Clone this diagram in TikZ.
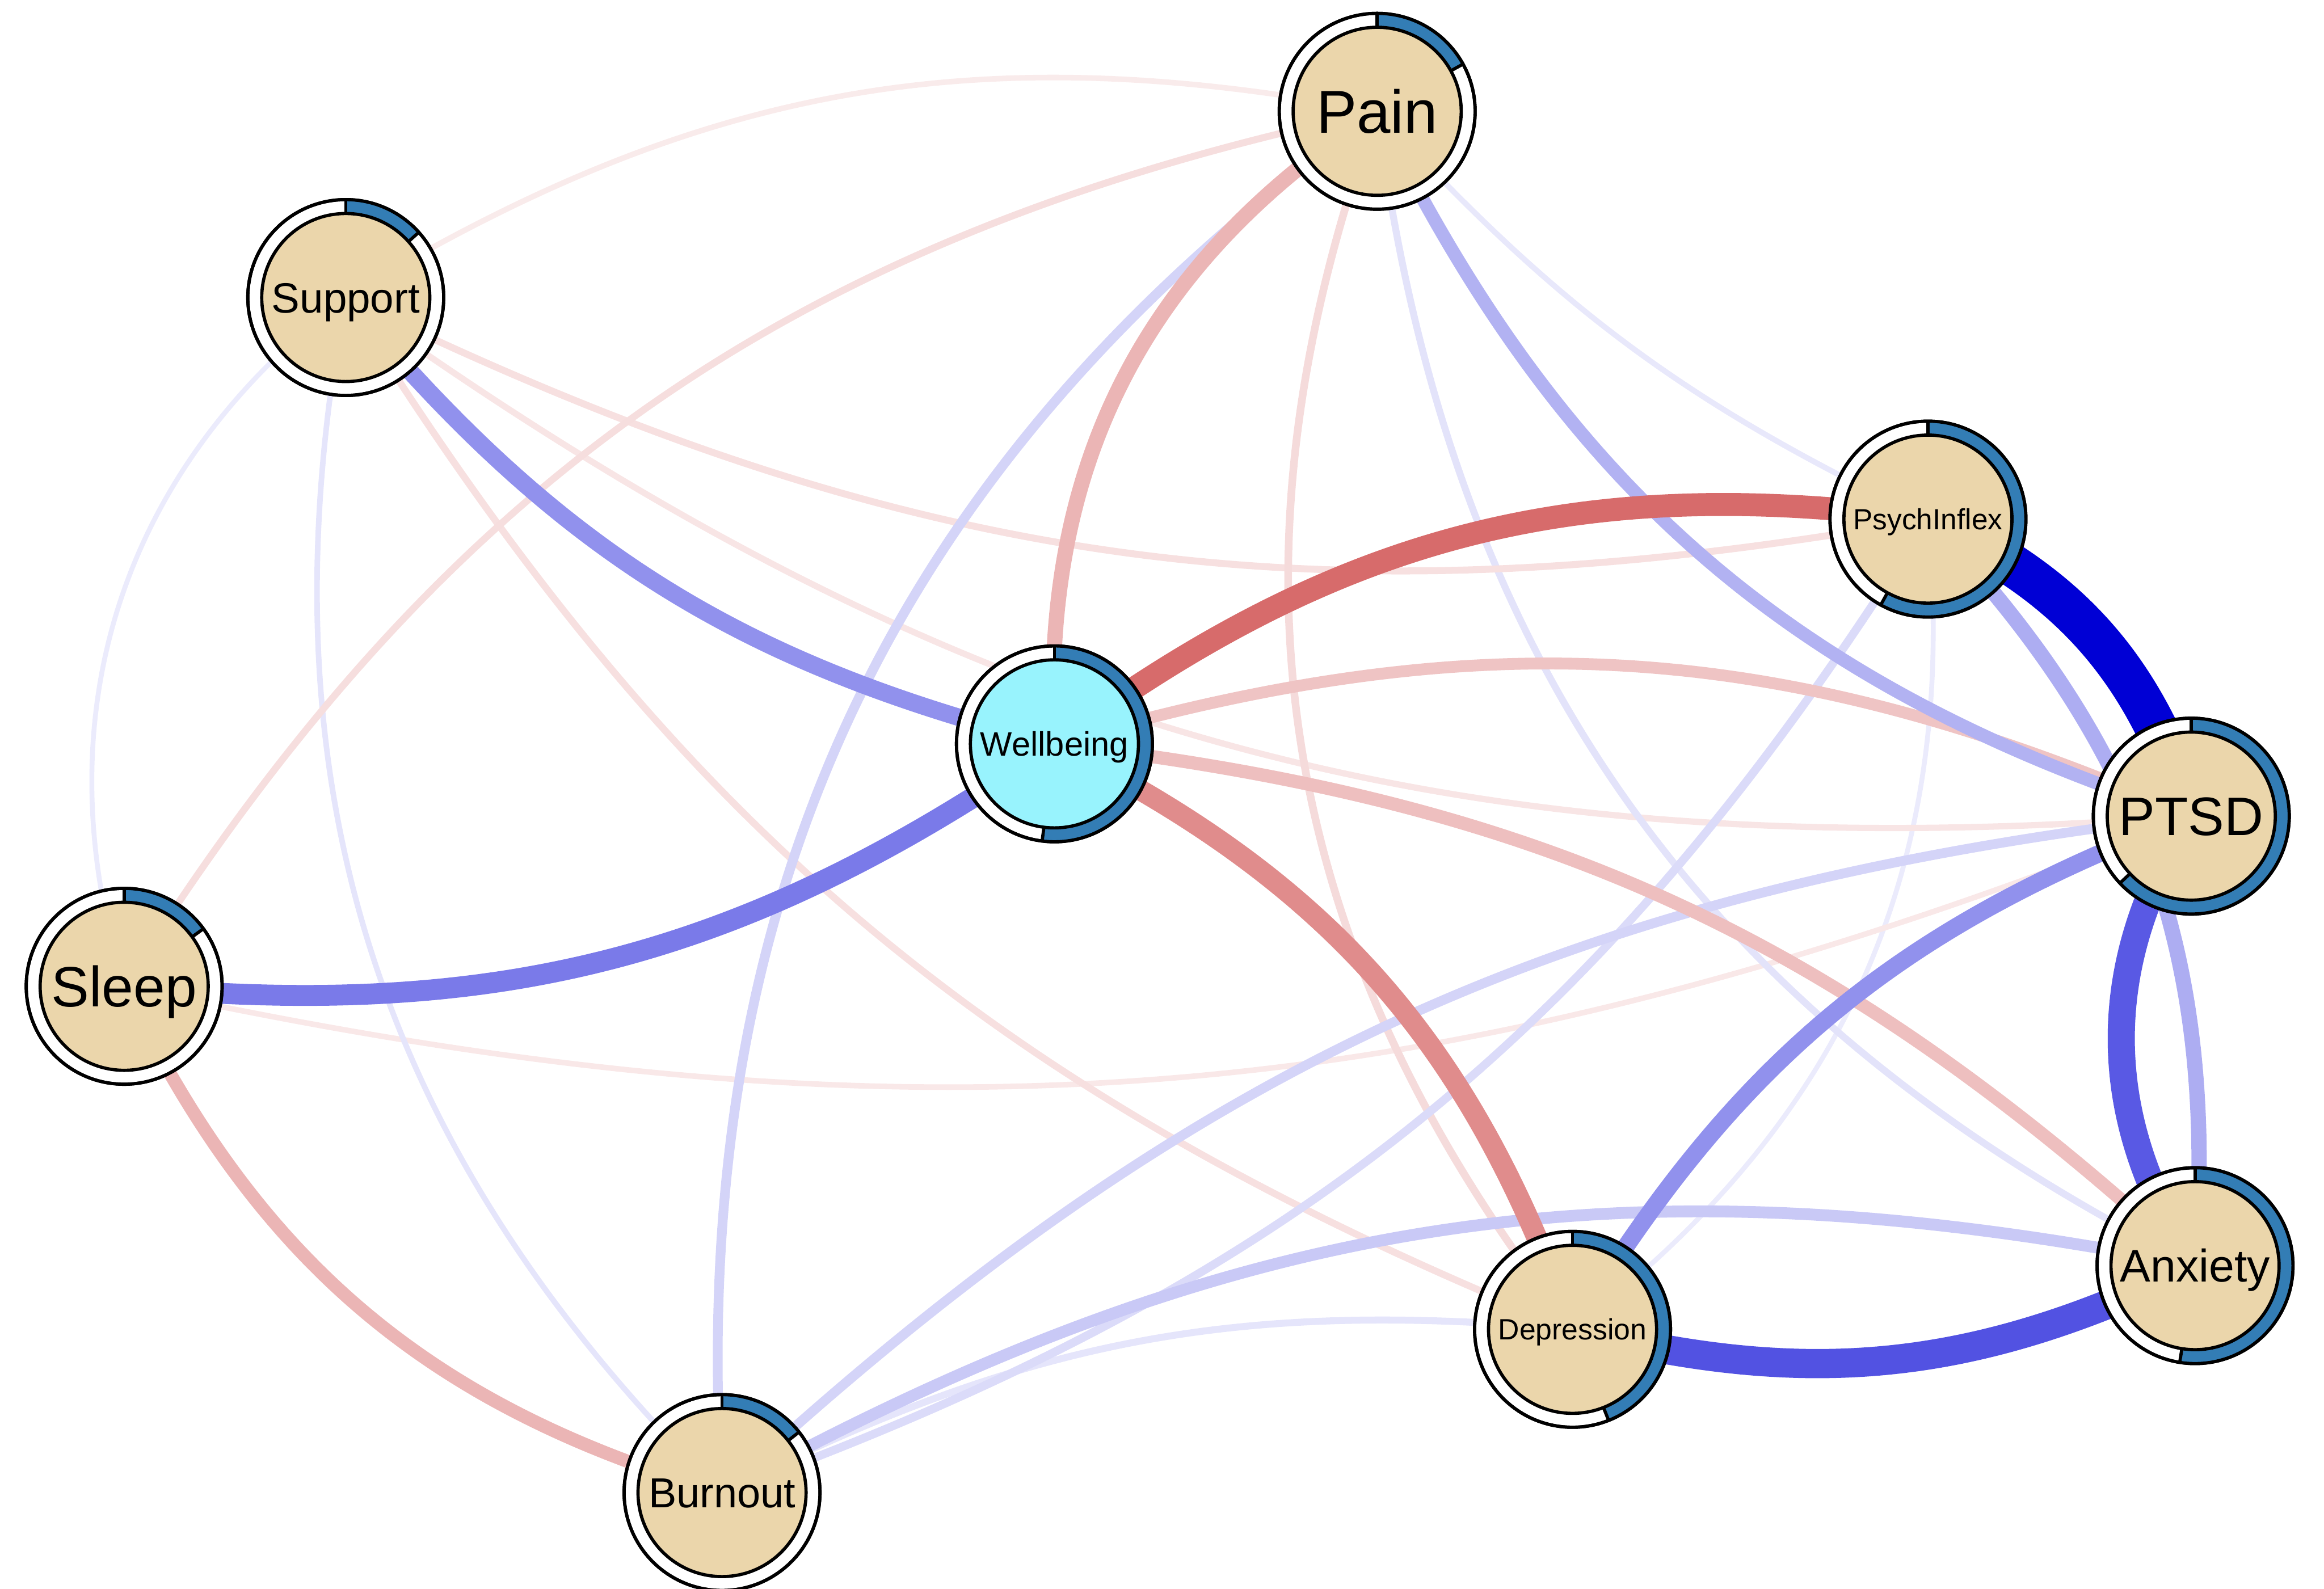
\documentclass[tikz,border=0pt]{standalone}
\usepackage{fontspec}
\setmainfont{Liberation Sans}
\definecolor{pieblue}{HTML}{337DB5}
\definecolor{nodebeige}{HTML}{EBD6AB}
\definecolor{nodecyan}{HTML}{98F3FD}
\definecolor{posblue}{HTML}{0000D5}
\definecolor{negred}{HTML}{BA0000}
\pgfdeclarelayer{edges}
\pgfsetlayers{edges,main}
\tikzset{
  ringnode/.style={circle, draw, line width=0.024cm, fill=white, minimum size=1.464cm, inner sep=0pt},
  corenode/.style={circle, draw, line width=0.024cm, minimum size=1.256cm, inner sep=0pt, text depth=0pt},
  nodeline/.style={line width=0.024cm},
  poscon/.style 2 args={draw=posblue!#1, line width=#2*0.52cm},
  negcon/.style 2 args={draw=negred!#1, line width=#2*0.52cm},
}
% name, position, share, fill, font size, cap height, label
\newcommand{\pienode}[7]{
  \node[ringnode] (#1) at (#2) {};
  \fill[pieblue] (#1.center) -- ++(90:0.732) arc[start angle=90, delta angle={-360*#3}, radius=0.732cm] -- cycle;
  \draw[nodeline] (#1.center) ++(90:0.628) -- ++(90:0.104);
  \draw[nodeline] (#1.center) ++({90-360*#3}:0.628) -- ++({90-360*#3}:0.104);
  \draw[nodeline] (#1.center) circle[radius=0.732cm];
  \node[corenode, fill=#4, font={\fontsize{#5pt}{#5pt}\selectfont}, text height=#6cm] (#1-core) at (#1.center) {#7};
}
\begin{document}
\begin{tikzpicture}
    \useasboundingbox (0, 0) rectangle (17.368, -11.876);
    \pienode{pain}{10.292, -0.832}{0.17}{nodebeige}{12.88}{0.324}{Pain}
    \pienode{support}{2.584, -2.224}{0.134}{nodebeige}{9}{0.226}{Support}
    \pienode{psych}{14.408, -3.88}{0.58}{nodebeige}{6.2}{0.156}{PsychInflex}
    \pienode{wellbeing}{7.88, -5.56}{0.52}{nodecyan}{7.2}{0.181}{Wellbeing}
    \pienode{ptsd}{16.376, -6.1}{0.63}{nodebeige}{11.52}{0.29}{PTSD}
    \pienode{sleep}{0.928, -7.372}{0.15}{nodebeige}{12.08}{0.304}{Sleep}
    \pienode{anxiety}{16.404, -9.46}{0.525}{nodebeige}{9.72}{0.244}{Anxiety}
    \pienode{depression}{11.752, -9.936}{0.44}{nodebeige}{6.24}{0.157}{Depression}
    \pienode{burnout}{5.396, -11.156}{0.144}{nodebeige}{8.92}{0.224}{Burnout}
    \begin{pgfonlayer}{edges}
    \draw[negcon={8}{0.08}] (support.center) to[bend left=21] (pain.center);
    \draw[poscon={8}{0.07}] (sleep.center) to[bend left=35] (support.center);
    \draw[poscon={8}{0.07}] (psych.center) to[bend left=29] (depression.center);
    \draw[poscon={9}{0.08}] (psych.center) to[bend left=11] (pain.center);
    \draw[negcon={9}{0.08}] (ptsd.center) to[bend left=17] (sleep.center);
    \draw[negcon={10}{0.09}] (ptsd.center) to[bend left=20] (support.center);
    \draw[poscon={10}{0.08}] (burnout.center) to[bend left=28] (support.center);
    \draw[poscon={10}{0.10}] (burnout.center) to[bend left=16] (depression.center);
    \draw[poscon={11}{0.10}] (anxiety.center) to[bend left=28] (pain.center);
    \draw[negcon={12}{0.10}] (psych.center) to[bend left=18] (support.center);
    \draw[negcon={12}{0.10}] (depression.center) to[bend left=18] (support.center);
    \draw[negcon={13}{0.10}] (sleep.center) to[bend left=23] (pain.center);
    \draw[negcon={14}{0.11}] (depression.center) to[bend left=29] (pain.center);
    \draw[poscon={14}{0.12}] (psych.center) to[bend left=19] (burnout.center);
    \draw[poscon={17}{0.14}] (burnout.center) to[bend left=29] (pain.center);
    \draw[poscon={17}{0.14}] (burnout.center) to[bend left=18] (ptsd.center);
    \draw[poscon={21}{0.17}] (burnout.center) to[bend left=20] (anxiety.center);
    \draw[negcon={23}{0.17}] (wellbeing.center) to[bend left=20] (ptsd.center);
    \draw[negcon={25}{0.19}] (wellbeing.center) to[bend left=18] (anxiety.center);
    \draw[negcon={29}{0.22}] (wellbeing.center) to[bend left=30] (pain.center);
    \draw[negcon={29}{0.19}] (burnout.center) to[bend left=24] (sleep.center);
    \draw[poscon={30}{0.19}] (ptsd.center) to[bend left=23] (pain.center);
    \draw[poscon={32}{0.22}] (psych.center) to[bend left=24] (anxiety.center);
    \draw[poscon={43}{0.25}] (wellbeing.center) to[bend left=18] (support.center);
    \draw[poscon={43}{0.25}] (depression.center) to[bend left=19] (ptsd.center);
    \draw[negcon={45}{0.30}] (wellbeing.center) to[bend left=22] (depression.center);
    \draw[poscon={52}{0.30}] (wellbeing.center) to[bend left=20] (sleep.center);
    \draw[negcon={58}{0.33}] (wellbeing.center) to[bend left=22] (psych.center);
    \draw[poscon={65}{0.39}] (anxiety.center) to[bend left=33] (ptsd.center);
    \draw[poscon={68}{0.42}] (anxiety.center) to[bend left=20] (depression.center);
    \draw[poscon={100}{0.61}] (psych.center) to[bend left=24] (ptsd.center);
    \end{pgfonlayer}
\end{tikzpicture}
\end{document}
